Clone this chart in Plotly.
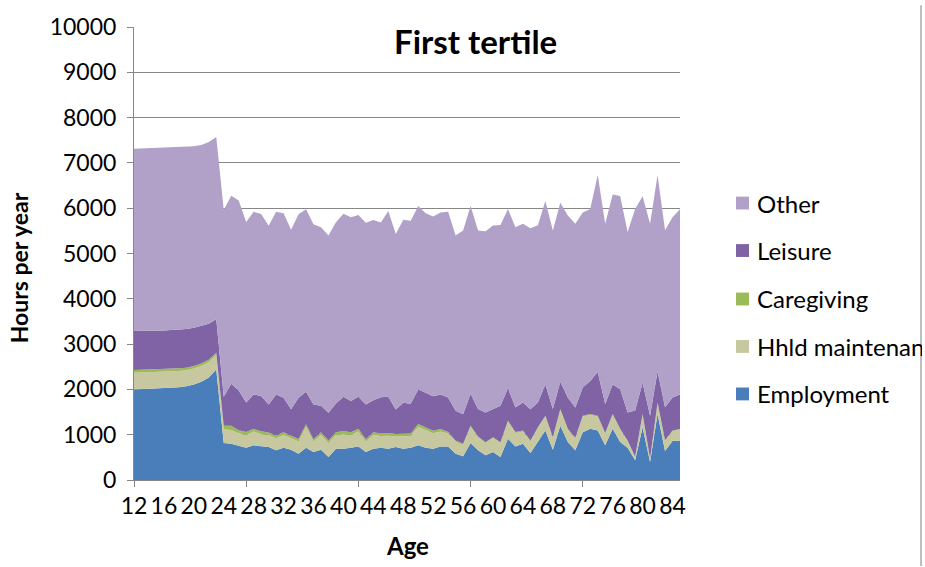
import plotly.graph_objects as go

# Age groups on the category axis
ages = list(range(12, 86))
age_ticks = [12, 16, 20, 24, 28, 32, 36, 40, 44, 48, 52, 56, 60, 64, 68, 72, 76, 80, 84]
age_marks = [12, 27, 42, 57, 72]
hour_ticks = [0, 1000, 2000, 3000, 4000, 5000, 6000, 7000, 8000, 9000, 10000]

# Hours per year by activity
employment = [2000, 2005, 2010, 2015, 2020, 2030, 2045, 2070, 2110, 2170, 2260, 2440,
              815, 800, 765, 713, 765, 742, 728, 655, 713, 670,
              582, 713, 620, 670, 510, 690, 690, 713, 742, 620,
              690, 713, 690, 728, 690, 713, 765, 713, 690, 742,
              742, 582, 524, 815, 655, 546, 620, 510, 910, 742,
              800, 597, 837, 1090, 670, 1200, 837, 655, 1055, 1130,
              1090, 765, 1130, 837, 713, 437, 1165, 400, 1455, 640,
              860, 873]
hhld = [370, 370, 370, 365, 365, 360, 360, 355, 350, 345, 340, 320,
        305, 305, 265, 280, 305, 275, 265, 265, 280, 250,
        270, 460, 230, 325, 305, 305, 325, 280, 330, 230,
        305, 260, 285, 230, 270, 260, 410, 390, 340, 330,
        285, 265, 250, 360, 285, 270, 305, 305, 380, 295,
        270, 255, 310, 310, 255, 345, 275, 255, 345, 305,
        310, 250, 305, 275, 145, 65, 275, 65, 240, 220,
        215, 240]
caregiving = [60, 60, 60, 60, 60, 60, 60, 55, 55, 55, 55, 50,
              80, 90, 70, 65, 60, 60, 55, 60, 60, 55,
              55, 60, 50, 60, 55, 60, 65, 60, 60, 50,
              60, 55, 60, 55, 55, 55, 60, 60, 55, 55,
              30, 25, 25, 25, 20, 20, 20, 20, 20, 20,
              20, 20, 20, 20, 20, 20, 20, 20, 20, 20,
              20, 20, 20, 20, 15, 10, 15, 10, 15, 15,
              15, 15]
leisure = [860, 855, 855, 860, 855, 860, 855, 855, 845, 830, 795, 740,
           640, 930, 875, 655, 760, 780, 620, 910, 765, 585,
           910, 715, 765, 585, 615, 635, 760, 690, 705, 765,
           705, 800, 800, 545, 690, 655, 765, 765, 765, 760,
           765, 655, 655, 705, 605, 655, 620, 805, 715, 545,
           620, 690, 545, 690, 620, 605, 690, 670, 620, 730,
           965, 640, 655, 870, 615, 1020, 690, 945, 690, 730,
           730, 760]
other = [4025, 4030, 4025, 4025, 4030, 4025, 4020, 4015, 4005, 3995, 4010, 4020,
         4120, 4150, 4195, 3980, 4030, 4015, 3945, 4030, 4070, 3965,
         4050, 4030, 3980, 3940, 3910, 4000, 4035, 4055, 4015, 4015,
         3980, 3855, 4105, 3875, 4040, 4040, 4050, 3960, 3965, 4020,
         4100, 3870, 4055, 4145, 3945, 4000, 4055, 3990, 3955, 3980,
         3945, 3995, 3910, 4050, 3945, 3950, 4015, 4055, 3865, 3795,
         4350, 3980, 4190, 4265, 3985, 4450, 4120, 4235, 4335, 3910,
         3980, 4090]

series_names = ["Employment", "Hhld maintenance", "Caregiving", "Leisure", "Other"]
series_values = [employment, hhld, caregiving, leisure, other]
series_colors = ["#4A7EBB", "#C8C8A0", "#9BBB59", "#7F63A5", "#B1A0C8"]

FONT = "Lato"
GRAY = "#878787"
W, H = 922, 567
ML, MR, MT, MB = 134, 242, 22, 87
PW, PH = W - ML - MR, H - MT - MB


def px_x(px):
    return (px - ML) / PW


def px_y(py):
    return (H - MB - py) / PH


fig = go.Figure()
for name, vals, col in zip(series_names, series_values, series_colors):
    fig.add_trace(go.Scatter(
        x=ages, y=vals, name=name, mode="lines", stackgroup="one",
        line=dict(width=0, color=col), fillcolor=col, showlegend=False,
    ))

shapes = []
annotations = []

# Legend drawn as swatches + labels, top entry is the top layer
legend_rows = [200, 248, 297, 345, 393]
for (name, col), row in zip(reversed(list(zip(series_names, series_colors))), legend_rows):
    shapes.append(dict(type="rect", xref="paper", yref="paper",
                       x0=px_x(736), x1=px_x(749), y0=px_y(row + 6.5), y1=px_y(row - 6.5),
                       fillcolor=col, line=dict(width=0)))
    annotations.append(dict(text=name, xref="paper", yref="paper",
                            x=px_x(755), y=px_y(row), xanchor="left", yanchor="middle",
                            showarrow=False, font=dict(family=FONT, size=24, color="#000")))

# Right frame line of the chart area
shapes.append(dict(type="line", xref="paper", yref="paper",
                   x0=px_x(921), x1=px_x(921), y0=px_y(H), y1=px_y(0),
                   line=dict(color="#7f7f7f", width=1)))

annotations.append(dict(text="<b>First tertile</b>", xref="paper", yref="paper",
                        x=px_x(475), y=px_y(36), xanchor="center", yanchor="middle",
                        showarrow=False, font=dict(family=FONT, size=33, color="#000")))
annotations.append(dict(text="<b>Age</b>", xref="paper", yref="paper",
                        x=0.5, y=px_y(546), xanchor="center", yanchor="middle",
                        showarrow=False, font=dict(family=FONT, size=24, color="#000")))
annotations.append(dict(text="<b>Hours per year</b>", xref="paper", yref="paper",
                        x=px_x(19), y=px_y(266), xanchor="center", yanchor="middle",
                        textangle=-90, showarrow=False,
                        font=dict(family=FONT, size=23, color="#000")))

fig.update_layout(
    width=W, height=H,
    margin=dict(l=ML, r=MR, t=MT, b=MB, pad=0),
    paper_bgcolor="white", plot_bgcolor="white",
    showlegend=False,
    font=dict(family=FONT, size=23, color="#000"),
    shapes=shapes, annotations=annotations,
    xaxis=dict(
        range=[12, 85], tickmode="array", tickvals=age_ticks,
        ticktext=[str(a) for a in age_ticks], ticks="",
        showline=True, linecolor=GRAY, linewidth=1, showgrid=False, zeroline=False,
        ticklabelstandoff=5, tickfont=dict(family=FONT, size=23, color="#000"),
        minor=dict(tickmode="array", tickvals=age_marks, ticks="outside",
                   ticklen=6, tickcolor=GRAY, tickwidth=1, showgrid=False),
    ),
    yaxis=dict(
        range=[0, 10000], tickmode="array", tickvals=hour_ticks,
        ticktext=[str(v) for v in hour_ticks], ticks="outside", ticklen=6,
        tickcolor=GRAY, showline=True, linecolor=GRAY, linewidth=1,
        showgrid=True, gridcolor=GRAY, gridwidth=1, zeroline=False,
        ticklabelstandoff=6, tickfont=dict(family=FONT, size=23, color="#000"),
    ),
)

fig.write_html("out.html")
